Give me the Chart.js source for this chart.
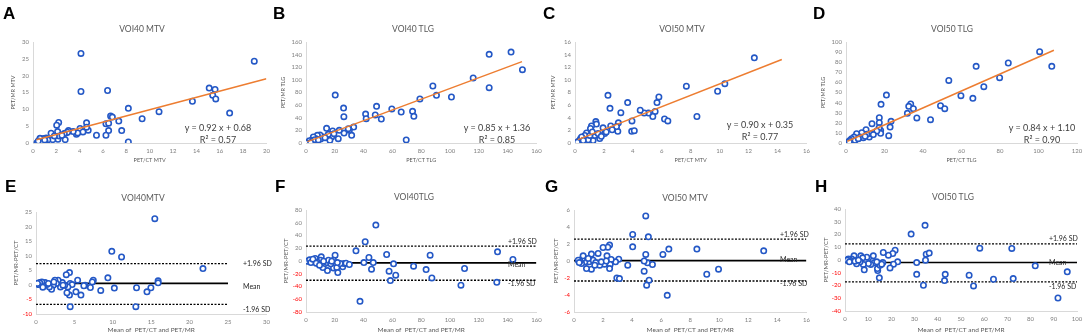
<!DOCTYPE html>
<html><head><meta charset="utf-8">
<script src="https://cdn.jsdelivr.net/npm/chart.js@4.4.1/dist/chart.umd.min.js"></script>
<style>
body{margin:0;background:#fff;width:1084px;height:334px;position:relative;overflow:hidden;font-family:Lato,"Liberation Sans",sans-serif}
canvas{position:absolute}
.lt{position:absolute;font:bold 17px "Liberation Sans",Arial,sans-serif;color:#000;line-height:17px}
.tt{position:absolute;font-size:8.5px;color:#595959;transform:translateX(-50%);white-space:nowrap;line-height:12px}
.eq{position:absolute;font-size:9px;color:#404040;transform:translateX(-50%);text-align:center;white-space:nowrap;line-height:12px}
</style></head><body>
<script>
// ---------- DATA ----------
const voi40MtvPts = [[4.11,26.6],[4.11,15.3],[6.39,15.6],[8.17,10.3],[9.35,7.2],[10.8,9.3],[13.66,12.4],[15.1,16.3],[15.6,15.9],[15.4,14.2],[15.66,13.1],[16.85,8.9],[18.96,24.3],[8.17,0.3],[7.6,3.7],[7.35,6.5],[6.65,8.0],[6.8,7.7],[6.25,5.7],[6.48,5.9],[6.48,3.7],[6.25,2.3],[5.44,2.3],[4.59,6.0],[4.73,3.8],[4.59,4.7],[4.03,4.3],[4.28,3.3],[3.72,2.6],[3.83,3.0],[3.44,3.4],[3.04,3.7],[2.82,3.0],[2.96,3.2],[2.68,2.8],[2.2,6.1],[2.03,5.3],[2.11,3.4],[2.76,1.0],[2.14,1.1],[1.69,1.0],[1.55,2.9],[2.25,2.1],[2.48,2.3],[1.83,2.1],[1.13,1.5],[1.27,0.9],[0.42,0.1],[0.5,0.5],[0.56,0.9],[0.7,1.2],[0.79,0.6],[0.85,1.0],[0.93,1.3],[1.04,0.4],[0.62,0.0],[0.34,0.1],[0.6,1.4],[0.75,0.3],[1.0,0.9],[0.45,0.6]];
const voi40TlgPts = [[142.4,144.1],[127.2,140.4],[116.1,103],[127.2,87.6],[150.3,116.2],[88.1,90.3],[90.6,75.5],[101,72.9],[79.1,69.7],[74,50.2],[74.9,42.2],[66.1,49.1],[59.6,53.9],[69.6,4.8],[49,58.1],[48.1,44.4],[52.3,38],[41.4,45.9],[41.8,38.5],[20.3,76],[26.1,55.4],[26.3,41.7],[33.1,25.3],[30.1,20.1],[31.7,12.1],[29.4,22.7],[26.4,15.8],[23.1,20.1],[22.4,6.9],[18.5,19],[14.3,23.2],[16.9,13.2],[17.8,9.5],[16.6,4.2],[19.4,14.8],[15.5,13.7],[12,9.5],[9.7,12.7],[7.9,12.1],[10.2,6.3],[6.9,6.9],[5.1,9.5],[3.9,4.2],[2.8,2.1],[1.6,1.1],[2.3,3.7],[4.6,3.2],[6.2,5.3],[8.6,4.8],[13.2,8.4],[0.9,0],[3.2,0.5]];
const voi50MtvPts = [[12.4,13.5],[10.36,9.4],[9.86,8.2],[7.7,9.0],[8.43,4.2],[5.8,7.3],[5.67,6.4],[5.54,5.0],[5.38,4.2],[6.19,3.8],[6.42,3.5],[5.08,4.75],[4.78,4.75],[4.51,5.2],[3.64,6.4],[3.17,4.8],[3.94,3.5],[3.92,1.85],[4.1,1.95],[2.28,7.55],[2.42,5.5],[2.47,2.7],[3.0,3.2],[2.96,1.85],[2.87,2.6],[2.57,2.1],[1.94,2.4],[1.44,3.4],[1.48,3.0],[1.14,2.7],[1.07,2.3],[1.25,0.4],[1.71,0.7],[0.8,1.6],[0.68,1.2],[0.39,0.7],[0.3,0.4],[0.16,0.15],[0.46,0.95],[0.91,0.5],[1.37,1.2],[1.6,1.5],[2.05,1.5],[2.16,1.75],[1.82,1.05],[1.03,1.2],[0.57,0.4],[1.2,1.75]];
const voi50TlgPts = [[100.6,90.4],[106.9,75.9],[84.3,79.2],[79.8,64.7],[67.6,75.9],[71.6,55.8],[59.7,46.9],[65.9,44.2],[53.4,62],[49.1,37],[51.3,34],[43.9,23.1],[36.8,24.8],[33.6,38.6],[32.6,36.3],[35,34],[31.9,29.4],[21,47.5],[18.2,38.3],[23.4,21.5],[22.9,15.8],[22.2,7.3],[17.3,25.1],[17.3,20.1],[18,12.5],[18,9.6],[17.2,15.2],[16,11.9],[13.5,19.1],[10.4,13.2],[12.1,5.9],[13.2,9.2],[10.8,8.6],[8.2,10.2],[5.5,9.2],[7.3,5.9],[9,5.3],[4.2,5.9],[2.9,4.3],[2.1,2.6],[1,1],[0.7,0],[1.7,1.3],[4.7,2.6],[6.4,4.3],[9.9,6.6],[14.2,8.3]];
const baVoi40MtvPts = [[15.47,22.7],[9.87,11.5],[11.14,9.6],[21.74,5.6],[9.36,2.4],[15.9,1.4],[15.9,0.7],[14.96,-1.0],[14.45,-2.4],[13.09,-1.0],[13.0,-7.5],[10.2,-1.1],[8.43,-1.9],[7.46,1.6],[7.33,1.0],[7.08,-0.9],[6.4,-0.1],[6.23,-0.3],[5.85,-3.5],[5.42,1.6],[5.2,-2.4],[4.36,4.2],[3.94,3.5],[4.36,-3.5],[4.03,-2.7],[4.45,-7.5],[4.45,0.5],[4.7,0.1],[4.15,-0.7],[3.73,-0.1],[3.43,0.8],[3.18,-0.7],[2.88,1.6],[2.46,1.6],[2.67,0.5],[2.25,-0.1],[2.03,-1.5],[1.74,-0.7],[1.4,0.1],[1.19,0.8],[0.97,-0.3],[0.76,1.0],[0.55,0.3],[0.34,0.1],[0.47,0.8],[0.89,-0.8],[1.61,0.5],[2.33,1.0],[3.52,-0.1],[0.2,0.5]];
const baVoi40TlgPts = [[48.5,56.4],[41.1,30.2],[34.7,16],[43.7,5.5],[40.2,-2.4],[45.5,-12.8],[46.7,-2.4],[56,10.2],[60.8,-4.5],[57.7,-16],[58.6,-30.7],[62.3,-22.3],[37.5,-63.2],[74.7,-8.1],[83.4,-13.4],[86.2,9.2],[87.4,-26.5],[107.6,-38],[110.1,-11.8],[132.5,-33.5],[133,14.4],[143.7,2.4],[20.2,9.2],[19.1,1.3],[19.1,-10.8],[21.4,-10.2],[22.1,-18.1],[25.5,-9.2],[26.4,-3.9],[27.8,-3.4],[30.1,-5.5],[23.7,-3.9],[21.8,-2.4],[14.9,-15],[11.7,-10.2],[10.6,6.6],[10.2,1.3],[13.3,-3.9],[14.5,-2.4],[15.6,1.3],[17.2,-4.5],[8.7,-3.9],[7.6,-1.3],[6.4,3.9],[5.3,0.3],[4.1,-1.3],[3,-0.3],[1.8,0.3],[1.1,-0.3],[2.5,1.8],[3.4,-2.4],[4.8,2.9],[7.1,-3.4],[9.4,-6.6],[12.2,-0.3],[17.9,-0.3]];
const baVoi50MtvPts = [[4.94,5.3],[4.04,3.13],[5.12,2.85],[4.04,1.67],[4.94,0.77],[6.12,0.77],[6.53,1.4],[8.46,1.4],[13.06,1.2],[5.06,-0.22],[4.83,0],[5.4,-0.41],[3.7,-0.49],[4.83,-1.2],[5.17,-2.26],[5.0,-2.85],[6.42,-4.04],[9.14,-1.56],[9.95,-0.96],[3.08,0.22],[2.95,-1.99],[3.13,-2.07],[2.86,-0.1],[2.45,1.87],[2.33,1.63],[2.0,1.59],[2.27,0.61],[2.56,0.18],[2.49,-0.41],[2.45,-0.89],[2.1,-0.37],[1.77,-0.49],[1.66,0.89],[1.2,0.81],[1.2,-0.96],[0.86,-0.89],[1.04,-0.1],[1.32,0.1],[1.5,-0.18],[1.88,-0.1],[0.75,-0.1],[0.59,0.3],[0.63,0.61],[0.52,-0.3],[0.41,0],[0.29,0.1],[0.36,-0.18],[0.98,0.3],[1.43,-0.49],[2.22,0]];
const baVoi50TlgPts = [[34.5,27.2],[28.5,20.3],[35,4.6],[36.3,5.4],[34.7,-0.1],[30.9,-2],[30.9,-11.2],[33.8,-19.8],[43.2,-11.2],[42.9,-16.1],[53.5,-11.9],[55.4,-20.3],[58.1,9.3],[64,-15.1],[71.9,9.1],[72.5,-14.6],[82,-4.6],[95.8,-9.3],[91.8,-29.8],[21.6,7.7],[20.6,5.1],[18.7,3.8],[16.5,5.9],[22.7,-1.4],[20.9,-3.3],[19.4,-6.2],[16.3,-2],[14.8,-14],[14.1,-8.3],[14,-6.7],[15.1,-4.1],[15.8,-3.3],[12.2,3.3],[11.9,-0.9],[12.5,-2.2],[11.1,-3.5],[10.1,-2.8],[7.9,-3.5],[8.3,-7.7],[9.4,2.2],[6.8,3.3],[7.6,1.7],[6.5,-1.4],[5,-3],[3.9,3.3],[3.6,-0.1],[2.9,0.7],[2.2,-0.1],[1.4,0.7],[1,-0.1],[1.9,-1.4],[4.3,-0.9],[5.8,-0.1],[13.7,-1.4]];

// regression: [slope, intercept, xStart, xEnd]
const voi40MtvFit = [0.92, 0.68, 0.3, 20];
const voi40TlgFit = [0.85, 1.36, 1, 150];
const voi50MtvFit = [0.90, 0.35, 0.2, 14.3];
const voi50TlgFit = [0.84, 1.10, 0.7, 108];
const fitR2 = ["0.57", "0.85", "0.77", "0.90"];

// Bland-Altman limits: [+1.96 SD, mean, -1.96 SD, line x end]
const baVoi40MtvLim = [7.3, 0.5, -6.7, 25];
const baVoi40TlgLim = [23.3, -2.9, -30.2, 160];
const baVoi50MtvLim = [2.58, 0.05, -2.35, 16];
const baVoi50TlgLim = [12.7, -2.0, -17.1, 100];

// axis ranges [min, max, step]
const axA = {x:[0,20,2], y:[0,30,5]};
const axB = {x:[0,160,20], y:[0,160,20]};
const axC = {x:[0,16,2], y:[0,16,2]};
const axD = {x:[0,120,20], y:[0,100,10]};
const axE = {x:[0,30,5], y:[-10,25,5]};
const axF = {x:[0,160,20], y:[-80,80,20]};
const axG = {x:[0,16,2], y:[-6,6,2]};
const axH = {x:[0,100,10], y:[-40,40,10]};

// ---------- LAYOUT ----------
const BLUE = '#2458c6', ORANGE = '#ed7d31';
const panels = [
 {L:'A', t:'VOI40 MTV', pos:[0,0,272,167], area:[33,42,270,143], ax:axA, pts:voi40MtvPts, fit:voi40MtvFit, r2:fitR2[0], xt:'PET/CT MTV', yt:'PET/MR MTV', eq:[218,122], tc:[142,23]},
 {L:'B', t:'VOI40 TLG', pos:[270,0,272,167], area:[36,42,267,143], ax:axB, pts:voi40TlgPts, fit:voi40TlgFit, r2:fitR2[1], xt:'PET/CT TLG', yt:'PET/MR TLG', eq:[497,122], tc:[413,23]},
 {L:'C', t:'VOI50 MTV', pos:[540,0,272,167], area:[35,42,269,143], ax:axC, pts:voi50MtvPts, fit:voi50MtvFit, r2:fitR2[2], xt:'PET/CT MTV', yt:'PET/MR MTV', eq:[760,119], tc:[682,23]},
 {L:'D', t:'VOI50 TLG', pos:[810,0,274,167], area:[36,42,267,143], ax:axD, pts:voi50TlgPts, fit:voi50TlgFit, r2:fitR2[3], xt:'PET/CT TLG', yt:'PET/MR TLG', eq:[1042,122], tc:[952,23]},
 {L:'E', t:'VOI40MTV', pos:[0,165,272,169], area:[36,47,271,149], ax:axE, pts:baVoi40MtvPts, lim:baVoi40MtvLim, lab:[243,[0,3,5]], tc:[143,192]},
 {L:'F', t:'VOI40TLG', pos:[270,165,272,169], area:[36,45,268,147], ax:axF, pts:baVoi40TlgPts, lim:baVoi40TlgLim, lab:[238,[-4,2,3]], tc:[414,191]},
 {L:'G', t:'VOI50 MTV', pos:[540,165,272,169], area:[34,45,269,147], ax:axG, pts:baVoi50MtvPts, lim:baVoi50MtvLim, lab:[240,[-4,-1,3]], tc:[685,192]},
 {L:'H', t:'VOI50 TLG', pos:[810,165,274,169], area:[35,44,267,146], ax:axH, pts:baVoi50TlgPts, lim:baVoi50TlgLim, lab:[239,[-5,0,5]], tc:[953,191]}
];

const FONT = 'Lato, "Liberation Sans", sans-serif';

function addDiv(cls, txt, x, y){
  const d = document.createElement('div');
  d.className = cls; d.innerHTML = txt;
  d.style.left = x+'px'; d.style.top = y+'px';
  document.body.appendChild(d);
}

function baLabels(p){
  return {
    id:'baLabels'+p.L,
    afterDatasetsDraw(chart){
      const ctx = chart.ctx, ys = chart.scales.y;
      const names = ['+1.96 SD','Mean','-1.96 SD'];
      ctx.save();
      ctx.font = '7px ' + FONT;
      ctx.fillStyle = '#262626';
      ctx.textBaseline = 'middle';
      ctx.textAlign = 'left';
      for(let i=0;i<3;i++){
        ctx.fillText(names[i], p.lab[0], ys.getPixelForValue(p.lim[i]) + p.lab[1][i]);
      }
      ctx.restore();
    }
  };
}

panels.forEach(p => {
  const [cx, cy, cw, ch] = p.pos;
  const [L, T, R, B] = p.area;
  const cv = document.createElement('canvas');
  cv.width = cw; cv.height = ch;
  cv.style.left = cx+'px'; cv.style.top = cy+'px';
  document.body.appendChild(cv);

  addDiv('lt', p.L, cx + (p.lim ? 5 : 3), cy + (p.lim ? 13 : 5));
  addDiv('tt', p.t, p.tc[0], p.tc[1]);

  const datasets = [{
    type:'scatter',
    data: p.pts.map(([x,y]) => ({x,y})),
    pointStyle:'circle', pointRadius:2.7, borderWidth:1.6,
    borderColor:BLUE, backgroundColor:'#fff', order:1
  }];
  const ba = !!p.lim;
  if (!ba){
    const [m,b,x0,x1] = p.fit;
    datasets.push({type:'line', data:[{x:x0,y:m*x0+b},{x:x1,y:m*x1+b}],
      borderColor:ORANGE, borderWidth:1.5, pointRadius:0, order:0, fill:false});
    addDiv('eq', 'y = ' + p.fit[0].toFixed(2) + ' x + ' + p.fit[1].toFixed(2) + '<br>R² = ' + p.r2, p.eq[0], p.eq[1]);
  } else {
    const xe = p.lim[3];
    [0,1,2].forEach(i => {
      datasets.push({type:'line', data:[{x:0,y:p.lim[i]},{x:xe,y:p.lim[i]}],
        borderColor:'#000', borderWidth: i===1 ? 1.6 : 1.3, borderDash: i===1 ? [] : [2,1.5],
        pointRadius:0, order:2, fill:false});
    });
  }

  const tickFont = {size: 6, family: FONT};
  new Chart(cv, {
    type:'scatter',
    data:{datasets},
    options:{
      responsive:false, animation:false, events:[],
      layout:{padding:{top:T, right:cw-R, left:0, bottom:0}},
      plugins:{legend:{display:false}, tooltip:{enabled:false}},
      scales:{
        x:{type:'linear', min:p.ax.x[0], max:p.ax.x[1],
          grid:{display:false, drawTicks:false},
          border:{color:'#d9d9d9', width:1},
          ticks:{stepSize:p.ax.x[2], font:tickFont, color:'#7f7f7f', padding:4, maxRotation:0, autoSkip:false},
          title:{display:true, text: ba ? 'Mean of  PET/CT and PET/MR' : p.xt,
                 font:{size: ba ? 6.5 : 5.5, family:FONT}, color:'#595959',
                 padding:{top:0, bottom: ba ? 0 : 3}},
          afterFit: s => { s.height = ch - B; s.paddingLeft = 0; s.paddingRight = 0; }
        },
        y:{type:'linear', min:p.ax.y[0], max:p.ax.y[1],
          grid:{display:false, drawTicks:false},
          border:{color:'#d9d9d9', width:1},
          ticks:{stepSize:p.ax.y[2], font:tickFont, padding:4, autoSkip:false,
                 color: c => (c.tick && c.tick.value < 0) ? '#ff0000' : '#7f7f7f'},
          title:{display:true, text: ba ? 'PET/MR-PET/CT' : p.yt,
                 font:{size: ba ? 6 : 5.5, family:FONT}, color:'#595959',
                 padding:{top: ba ? 12 : 10, bottom:0}},
          afterFit: s => { s.width = L; s.paddingTop = 0; s.paddingBottom = 0; }
        }
      }
    },
    plugins: ba ? [baLabels(p)] : []
  });
});
</script>
</body></html>
